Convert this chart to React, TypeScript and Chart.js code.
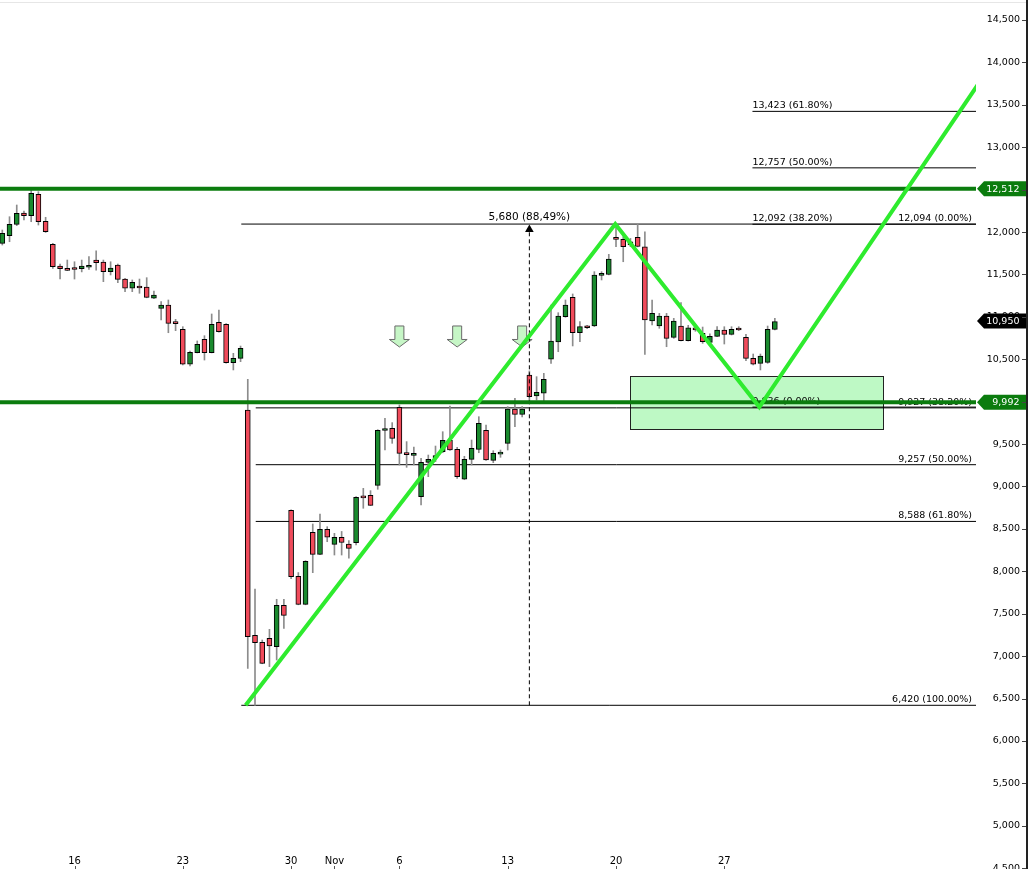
import React, { useEffect, useRef } from 'react';
import { Chart, registerables } from 'chart.js';

Chart.register(...registerables);

// ---- candle data (3 candles per trading day) ----
const OPEN = [11867, 11957, 12091, 12225, 12193, 12445, 12126, 11855, 11600, 11565, 11575, 11568, 11585, 11670, 11647, 11533, 11611, 11446, 11337, 11357, 11352, 11219, 11101, 11140, 10937, 10853, 10441, 10578, 10735, 10578, 10936, 10912, 10460, 10511, 9902, 7245, 7162, 7210, 7111, 7599, 8719, 7940, 7611, 8460, 8200, 8495, 8318, 8400, 8322, 8337, 8884, 8896, 9014, 9660, 9686, 9934, 9393, 9367, 8880, 9285, 9340, 9410, 9544, 9438, 9085, 9320, 9438, 9663, 9308, 9382, 9509, 9914, 9851, 10315, 10067, 10099, 10500, 10706, 11002, 11230, 10813, 10888, 10892, 11490, 11500, 11938, 11914, 11886, 11938, 11827, 10951, 10892, 11010, 10759, 10892, 10719, 10865, 10806, 10700, 10770, 10845, 10794, 10868, 10759, 10511, 10452, 10464, 10853];
const HIGH = [12024, 12181, 12319, 12248, 12500, 12476, 12174, 11867, 11623, 11670, 11650, 11670, 11710, 11780, 11670, 11650, 11623, 11454, 11435, 11446, 11462, 11305, 11179, 11199, 10971, 10884, 10597, 10716, 10778, 11034, 11081, 10920, 10570, 10656, 10264, 7791, 7190, 7316, 7670, 7670, 8725, 7985, 8125, 8558, 8676, 8526, 8448, 8470, 8361, 8880, 8978, 8951, 9670, 9804, 9753, 9961, 9529, 9466, 9332, 9371, 9477, 9646, 9949, 9462, 9356, 9548, 9823, 9725, 9422, 9430, 9941, 10040, 9941, 10362, 10295, 10334, 11140, 11049, 11199, 11270, 10943, 10900, 11533, 11533, 11737, 12094, 11945, 11925, 12091, 12004, 11199, 11041, 11041, 10983, 11167, 10900, 10900, 10880, 10800, 10884, 10884, 10884, 10884, 10794, 10562, 10562, 10892, 10983];
const LOW = [11847, 11886, 12075, 12142, 12122, 12083, 11995, 11570, 11446, 11545, 11446, 11530, 11560, 11552, 11415, 11494, 11403, 11297, 11297, 11278, 11225, 11215, 10963, 10813, 10837, 10433, 10421, 10575, 10491, 10575, 10820, 10455, 10374, 10472, 6856, 6420, 6910, 6876, 6954, 7328, 7914, 7605, 7605, 7984, 8195, 8349, 8192, 8192, 8155, 8310, 8743, 8775, 8967, 9430, 9509, 9253, 9226, 9253, 8782, 9116, 9293, 9398, 9425, 9096, 9080, 9253, 9398, 9308, 9281, 9344, 9430, 9706, 9820, 10000, 10020, 10000, 10452, 10589, 10995, 10657, 10707, 10860, 10885, 11435, 11495, 11827, 11650, 11827, 11825, 10558, 10904, 10865, 10648, 10747, 10715, 10715, 10830, 10688, 10690, 10766, 10680, 10786, 10837, 10483, 10433, 10374, 10452, 10845];
const CLOSE = [11985, 12091, 12221, 12193, 12457, 12122, 12004, 11591, 11568, 11548, 11558, 11600, 11602, 11638, 11533, 11576, 11442, 11337, 11407, 11340, 11230, 11258, 11140, 10924, 10920, 10441, 10582, 10676, 10578, 10912, 10825, 10460, 10511, 10629, 7229, 7158, 6915, 7119, 7599, 7481, 7936, 7611, 8118, 8200, 8495, 8401, 8400, 8340, 8271, 8872, 8866, 8778, 9663, 9678, 9568, 9391, 9375, 9391, 9285, 9320, 9356, 9544, 9432, 9116, 9320, 9450, 9745, 9312, 9391, 9398, 9914, 9851, 9914, 10059, 10110, 10264, 10715, 11010, 11140, 10813, 10884, 10872, 11493, 11507, 11682, 11914, 11827, 11847, 11830, 10963, 11041, 11010, 10747, 10951, 10719, 10872, 10847, 10708, 10770, 10845, 10794, 10853, 10845, 10511, 10441, 10538, 10853, 10943];

// ---- axes ----
const Y_TICKS = [4500, 5000, 5500, 6000, 6500, 7000, 7500, 8000, 8500, 9000, 9500, 10000, 10500, 11000, 11500, 12000, 12500, 13000, 13500, 14000, 14500];
const X_TICK_INDEX = [10, 25, 40, 46, 55, 70, 85, 100];
const X_TICK_LABELS = ['16', '23', '30', 'Nov', '6', '13', '20', '27'];
const X_MIN = -0.3186;
const X_MAX = 134.86;
const Y_MIN = 4490;
const Y_MAX = 14736;

// ---- annotations ----
const SUPPORT_LEVELS = [12512, 9992];
const SUPPORT_TAGS = ['12,512', '9,992'];
const LAST_PRICE = 10950;
const LAST_PRICE_TAG = '10,950';

const FIB_RETRACE_LEVELS = [12094, 9927, 9257, 8588, 6420];
const FIB_RETRACE_LABELS = ['12,094 (0.00%)', '9,927 (38.20%)', '9,257 (50.00%)', '8,588 (61.80%)', '6,420 (100.00%)'];
const FIB_RETRACE_START = [33.1, 35.1, 35.1, 35.1, 33.1];
const FIB_EXT_LEVELS = [13423, 12757, 12092, 9936];
const FIB_EXT_LABELS = ['13,423 (61.80%)', '12,757 (50.00%)', '12,092 (38.20%)', '9,936 (0.00%)'];
const FIB_EXT_START = 103.9;

const ZIGZAG_X = [33.7, 84.9, 104.85, 137];
const ZIGZAG_Y = [6420, 12094, 9936, 13974];

const MEASURE_X = 73;
const MEASURE_FROM = 6420;
const MEASURE_TO = 12030;
const MEASURE_LABEL = '5,680 (88,49%)';

const ZONE_X = [86.94, 121.98];
const ZONE_Y = [9678, 10303];

const ARROW_X = [55, 63, 72];
const ARROW_TIP = 10645;

const RED = '#F04B5B';
const GREEN = '#1A8A2E';
const WICK = '#8c8c8c';
const DARK_GREEN = '#0B7C0E';
const LIME = '#2EEB2E';
const ZONE_FILL = '#BEF9C5';
const FONT = '"DejaVu Sans", sans-serif';

function drawArrow(ctx: CanvasRenderingContext2D, cx: number, tip: number) {
  ctx.beginPath();
  ctx.moveTo(cx - 4.5, tip - 21);
  ctx.lineTo(cx + 4.5, tip - 21);
  ctx.lineTo(cx + 4.5, tip - 7.5);
  ctx.lineTo(cx + 10, tip - 7.5);
  ctx.lineTo(cx, tip);
  ctx.lineTo(cx - 10, tip - 7.5);
  ctx.lineTo(cx - 4.5, tip - 7.5);
  ctx.closePath();
  ctx.fillStyle = '#C6F6C6';
  ctx.fill();
  ctx.strokeStyle = '#6a6a6a';
  ctx.lineWidth = 1;
  ctx.stroke();
}

function drawTag(ctx: CanvasRenderingContext2D, left: number, yc: number, color: string, text: string, textRight: number) {
  const right = 1026;
  const h = 15;
  const notch = 7;
  ctx.beginPath();
  ctx.moveTo(left, yc);
  ctx.lineTo(left + notch, yc - h / 2);
  ctx.lineTo(right, yc - h / 2);
  ctx.lineTo(right, yc + h / 2);
  ctx.lineTo(left + notch, yc + h / 2);
  ctx.closePath();
  ctx.fillStyle = color;
  ctx.fill();
  ctx.fillStyle = '#fff';
  ctx.font = `9.5px ${FONT}`;
  ctx.textAlign = 'right';
  ctx.textBaseline = 'middle';
  ctx.fillText(text, textRight, yc + 0.5);
}

const annotationPlugin = {
  id: 'annotations',
  beforeDatasetsDraw(chart: any) {
    const { ctx, chartArea } = chart;
    const x = chart.scales.x;
    const y = chart.scales.y;
    ctx.save();
    ctx.fillStyle = '#e6e6e6';
    ctx.fillRect(0, 2, 1026, 1);

    // zone
    const zx0 = x.getPixelForValue(ZONE_X[0]);
    const zx1 = x.getPixelForValue(ZONE_X[1]);
    const zy0 = y.getPixelForValue(ZONE_Y[1]);
    const zy1 = y.getPixelForValue(ZONE_Y[0]);
    ctx.fillStyle = ZONE_FILL;
    ctx.fillRect(zx0, zy0, zx1 - zx0, zy1 - zy0);
    ctx.strokeStyle = '#222';
    ctx.lineWidth = 1;
    ctx.strokeRect(Math.round(zx0) + 0.5, Math.round(zy0) + 0.5, Math.round(zx1 - zx0), Math.round(zy1 - zy0));

    // arrows
    ARROW_X.forEach((ix) => drawArrow(ctx, x.getPixelForValue(ix), y.getPixelForValue(ARROW_TIP)));

    // fib labels
    ctx.fillStyle = '#000';
    ctx.font = `9.5px ${FONT}`;
    ctx.textBaseline = 'alphabetic';
    ctx.textAlign = 'right';
    FIB_RETRACE_LEVELS.forEach((lv, k) => {
      ctx.fillText(FIB_RETRACE_LABELS[k], chartArea.right - 4, y.getPixelForValue(lv) - 3);
    });
    ctx.textAlign = 'left';
    const ex = x.getPixelForValue(FIB_EXT_START);
    FIB_EXT_LEVELS.forEach((lv, k) => {
      ctx.fillText(FIB_EXT_LABELS[k], ex, y.getPixelForValue(lv) - 3);
    });
    ctx.font = `10.5px ${FONT}`;
    ctx.textAlign = 'center';
    ctx.fillText(MEASURE_LABEL, x.getPixelForValue(MEASURE_X), y.getPixelForValue(FIB_RETRACE_LEVELS[0]) - 4);
    ctx.restore();
  },
  afterDraw(chart: any) {
    const { ctx, chartArea } = chart;
    const x = chart.scales.x;
    const y = chart.scales.y;
    ctx.save();
    // tags
    const tagLeft = chartArea.right + 1;
    const textRight = chartArea.right + 43.5;
    SUPPORT_LEVELS.forEach((lv, k) => drawTag(ctx, tagLeft, y.getPixelForValue(lv), DARK_GREEN, SUPPORT_TAGS[k], textRight));
    drawTag(ctx, tagLeft, y.getPixelForValue(LAST_PRICE), '#000', LAST_PRICE_TAG, textRight);
    // y tick marks + axis line
    ctx.fillStyle = '#444';
    Y_TICKS.forEach((v) => {
      const py = Math.round(y.getPixelForValue(v));
      ctx.fillRect(1022, py, 4, 1);
    });
    ctx.fillStyle = '#222';
    ctx.fillRect(1026, 0, 2, chart.height);
    // x tick marks
    ctx.fillStyle = '#555';
    X_TICK_INDEX.forEach((v) => {
      const px = Math.round(x.getPixelForValue(v));
      ctx.fillRect(px, chart.height - 3, 1, 3);
    });
    ctx.restore();
  },
};

export default function App() {
  const canvasRef = useRef<HTMLCanvasElement | null>(null);

  useEffect(() => {
    document.body.style.margin = '0';
    const canvas = canvasRef.current;
    if (!canvas) return;
    const idx = OPEN.map((_, i) => i);

    const datasets: any[] = [];
    FIB_RETRACE_LEVELS.forEach((lv, k) => {
      datasets.push({
        type: 'line',
        data: [{ x: FIB_RETRACE_START[k], y: lv }, { x: X_MAX + 5, y: lv }],
        borderColor: '#000',
        borderWidth: 1,
        pointRadius: 0,
        clip: 0,
        order: 10,
      });
    });
    FIB_EXT_LEVELS.forEach((lv) => {
      datasets.push({
        type: 'line',
        data: [{ x: FIB_EXT_START, y: lv }, { x: X_MAX + 5, y: lv }],
        borderColor: '#000',
        borderWidth: 1,
        pointRadius: 0,
        clip: 0,
        order: 10,
      });
    });
    datasets.push({
      type: 'bar',
      data: idx.map((i) => ({ x: i, y: [LOW[i], HIGH[i]] })),
      backgroundColor: WICK,
      borderWidth: 0,
      barThickness: 1,
      grouped: false,
      order: 9,
    });
    datasets.push({
      type: 'bar',
      data: idx.map((i) => ({ x: i, y: [OPEN[i], CLOSE[i]] })),
      backgroundColor: idx.map((i) => (CLOSE[i] >= OPEN[i] ? GREEN : RED)),
      borderColor: '#000',
      borderWidth: 1,
      borderSkipped: false,
      barThickness: 5,
      minBarLength: 2,
      grouped: false,
      order: 8,
    });
    datasets.push({
      type: 'line',
      data: [{ x: MEASURE_X, y: MEASURE_FROM }, { x: MEASURE_X, y: MEASURE_TO }],
      borderColor: '#000',
      borderWidth: 1,
      borderDash: [4, 3],
      pointRadius: [0, 5],
      pointStyle: 'triangle',
      pointBackgroundColor: '#000',
      pointBorderColor: '#000',
      pointBorderWidth: 0,
      order: 6,
    });
    SUPPORT_LEVELS.forEach((lv) => {
      datasets.push({
        type: 'line',
        data: [{ x: X_MIN - 1, y: lv }, { x: X_MAX + 1, y: lv }],
        borderColor: DARK_GREEN,
        borderWidth: 4,
        pointRadius: 0,
        clip: 0,
        order: 5,
      });
    });
    datasets.push({
      type: 'line',
      data: ZIGZAG_X.map((xv, k) => ({ x: xv, y: ZIGZAG_Y[k] })),
      borderColor: LIME,
      borderWidth: 4,
      pointRadius: 0,
      tension: 0,
      borderJoinStyle: 'miter',
      clip: 0,
      order: 1,
    });

    const chart = new Chart(canvas, {
      type: 'bar',
      data: { datasets },
      options: {
        animation: false,
        responsive: false,
        devicePixelRatio: 1,
        events: [],
        layout: { padding: { left: 0, top: 0, bottom: 0, right: 8 }, autoPadding: false },
        plugins: { legend: { display: false }, tooltip: { enabled: false } },
        scales: {
          x: {
            type: 'linear',
            position: 'bottom',
            min: X_MIN,
            max: X_MAX,
            offset: false,
            grid: { display: false, drawTicks: false },
            border: { display: false },
            ticks: {
              mirror: true,
              padding: 2,
              autoSkip: false,
              maxRotation: 0,
              color: '#000',
              font: { family: FONT, size: 10 },
              callback: (v: any) => {
                const k = X_TICK_INDEX.indexOf(Number(v));
                return k >= 0 ? X_TICK_LABELS[k] : '';
              },
            },
            afterBuildTicks: (s: any) => {
              s.ticks = X_TICK_INDEX.map((v) => ({ value: v }));
            },
            afterFit: (s: any) => {
              s.height = 0;
              s.paddingLeft = 0;
              s.paddingRight = 0;
            },
          },
          y: {
            type: 'linear',
            position: 'right',
            min: Y_MIN,
            max: Y_MAX,
            grid: { display: false, drawTicks: false },
            border: { display: false },
            ticks: {
              padding: 2,
              crossAlign: 'far',
              autoSkip: false,
              color: '#000',
              font: { family: FONT, size: 9.5 },
              callback: (v: any) => Number(v).toLocaleString('en-US'),
            },
            afterBuildTicks: (s: any) => {
              s.ticks = Y_TICKS.map((v) => ({ value: v }));
            },
            afterFit: (s: any) => {
              s.width = 44;
              s.paddingTop = 0;
              s.paddingBottom = 0;
            },
          },
        },
      } as any,
      plugins: [annotationPlugin],
    });
    return () => chart.destroy();
  }, []);

  return <canvas ref={canvasRef} width={1028} height={869} style={{ display: 'block' }} />;
}
